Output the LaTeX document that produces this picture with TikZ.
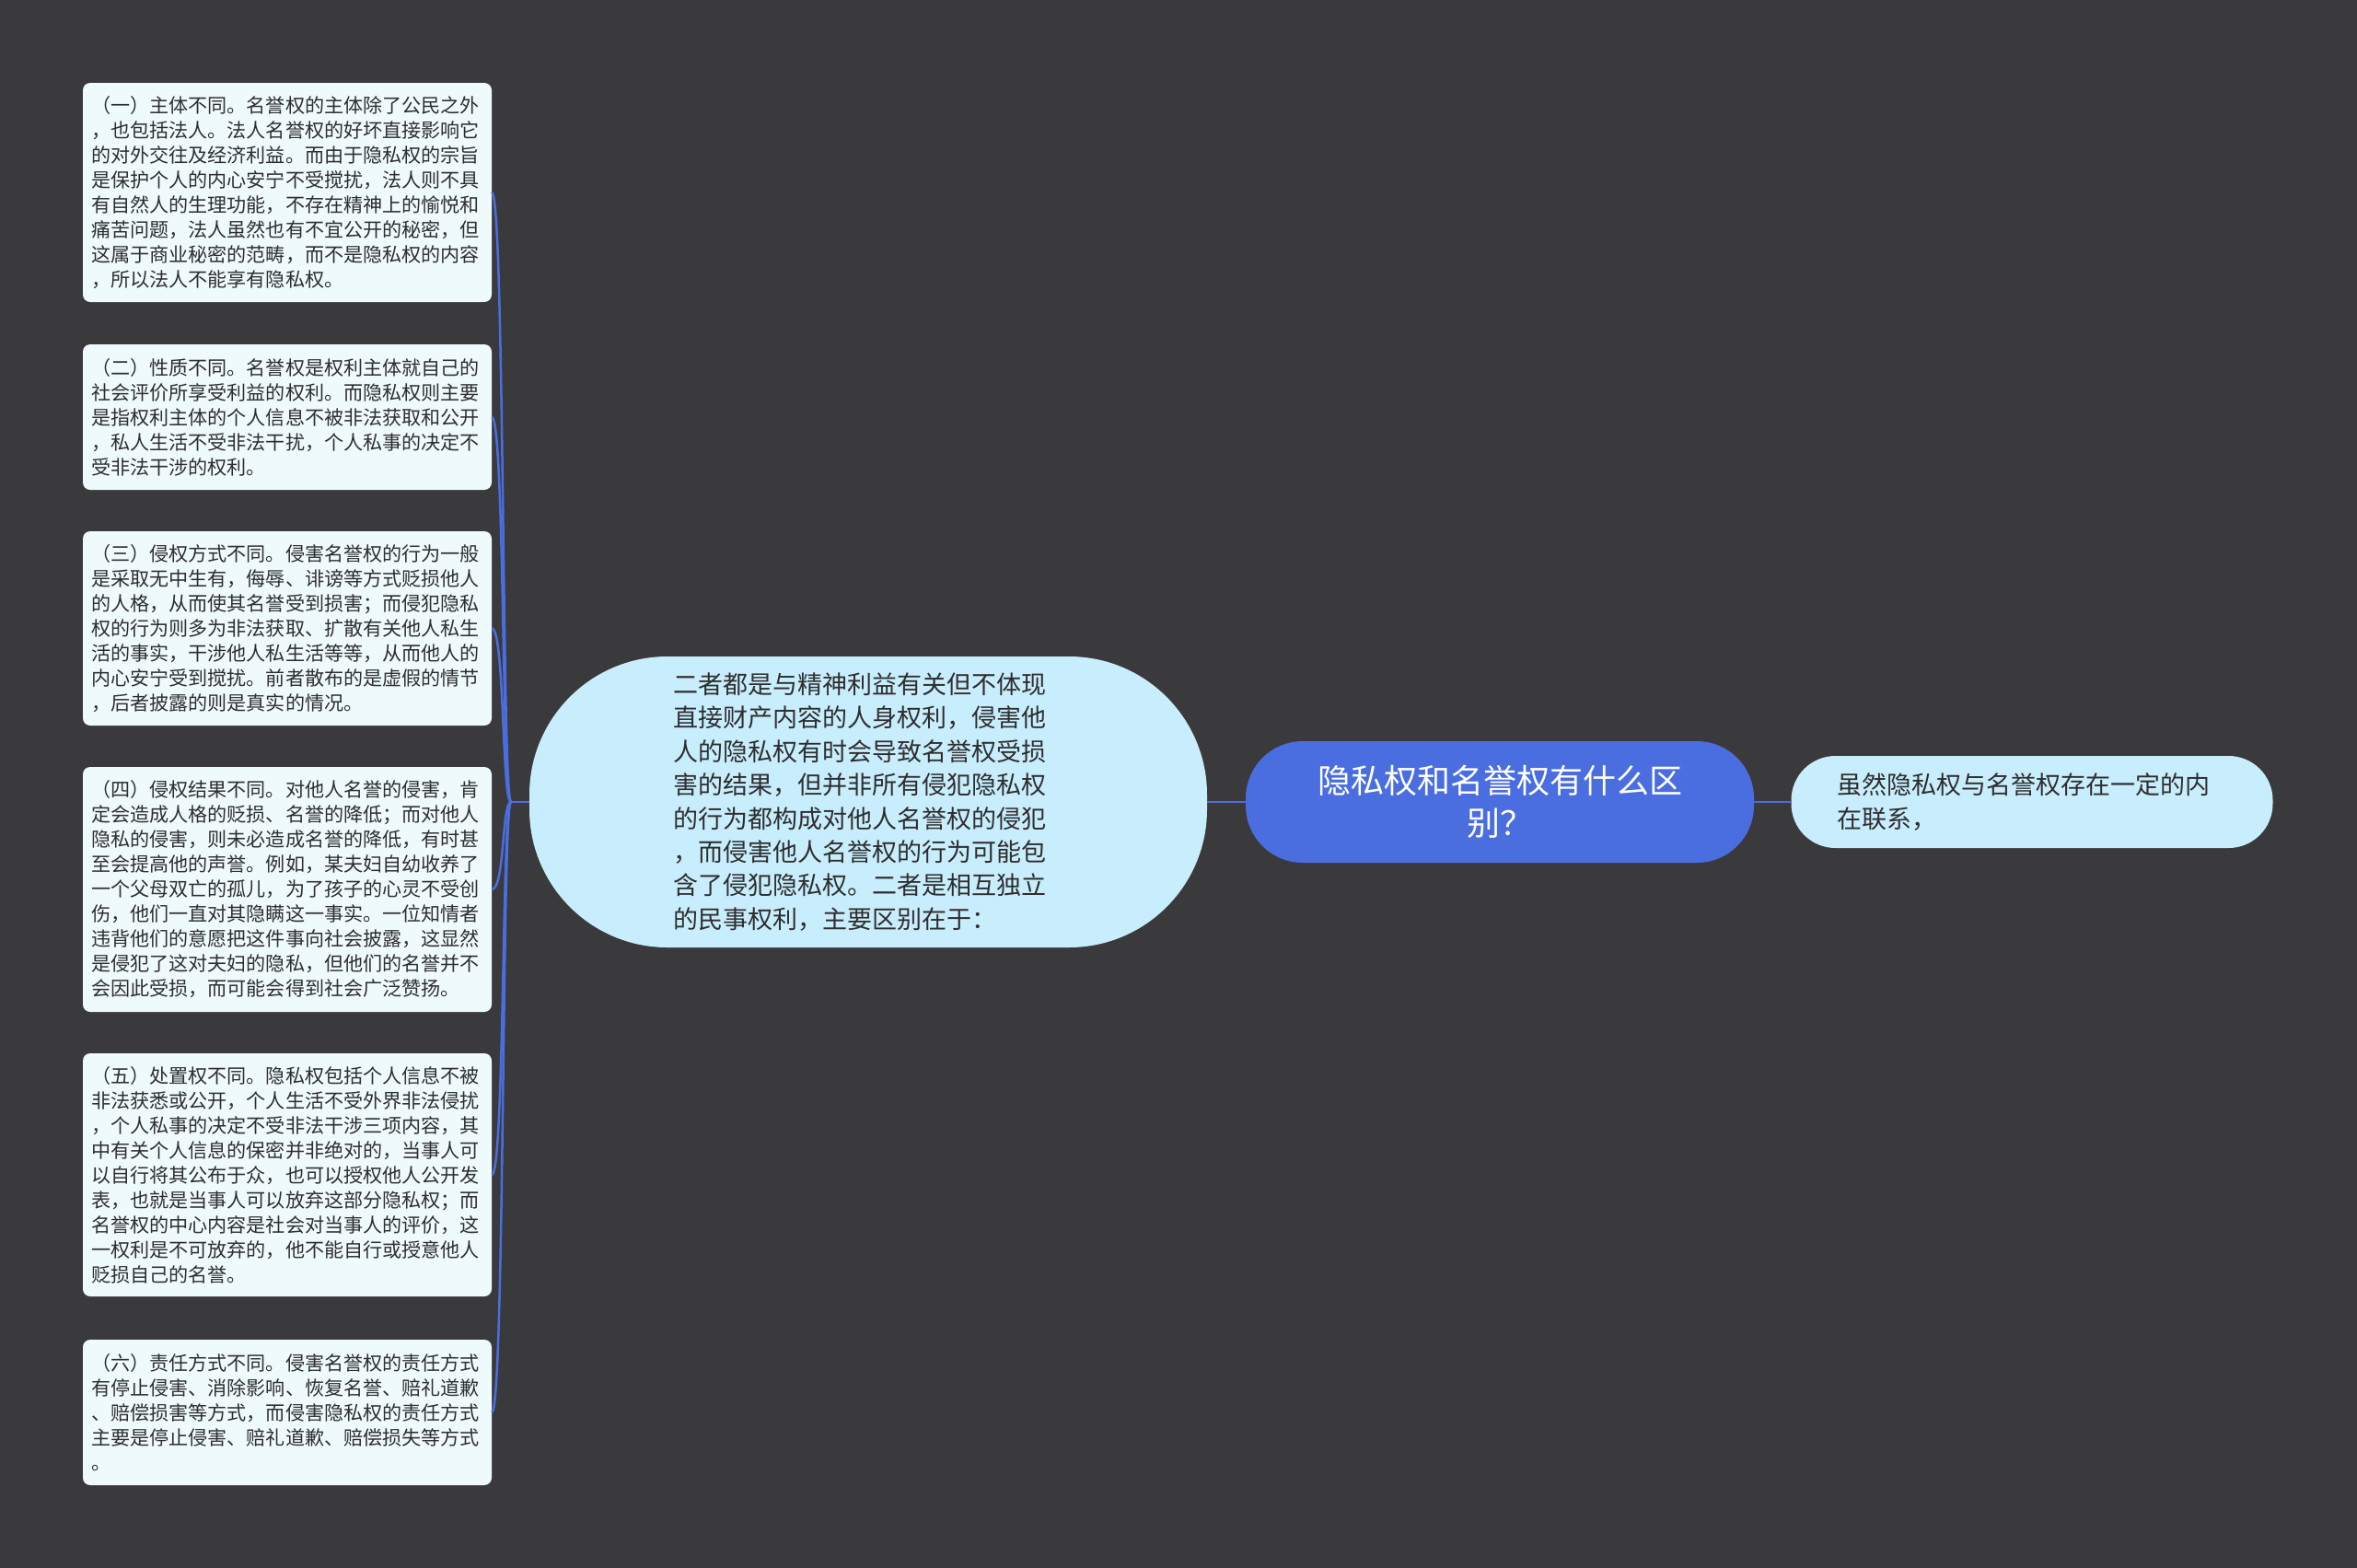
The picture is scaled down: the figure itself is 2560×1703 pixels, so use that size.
\documentclass[tikz,border=0pt]{standalone}
\usepackage{fontspec}
\setmainfont{Noto Sans CJK SC}
\definecolor{bgc}{HTML}{3A393B}
\definecolor{leaffill}{HTML}{EFFAFD}
\definecolor{midfill}{HTML}{C8EDFC}
\definecolor{rootfill}{HTML}{4A6EE0}
\definecolor{linec}{HTML}{4A6EE0}
\definecolor{txt}{HTML}{2E2E2E}
\tikzset{
  leaf/.style={fill=leaffill, rounded corners=8pt, text=txt, align=left,
    text width=426pt, inner xsep=9pt, inner ysep=0pt, minimum width=444pt,
    font=\fontsize{21.1pt}{27pt}\selectfont},
  midnode/.style={fill=midfill, rounded corners=150pt, text=txt, align=left,
    text width=424pt, minimum width=736pt, minimum height=316pt, inner sep=0pt,
    font=\fontsize{27pt}{36.4pt}\selectfont},
  rootnode/.style={fill=rootfill, rounded corners=62pt, text=white, align=center,
    text width=420pt, minimum width=552pt, minimum height=132pt, inner sep=0pt,
    font=\fontsize{36pt}{46pt}\selectfont},
  sidenode/.style={fill=midfill, rounded corners=48pt, text=txt, align=left,
    text width=424pt, minimum width=523pt, minimum height=100pt, inner sep=0pt,
    font=\fontsize{27pt}{37pt}\selectfont},
  conn/.style={draw=linec, line width=2.5pt},
}
\begin{document}
\begin{tikzpicture}[x=1pt,y=-1pt]
\fill[bgc] (0,0) rectangle (2560,1703);
\useasboundingbox (0,0) rectangle (2560,1703);

\node[rootnode] (root) at (1629,871) {隐私权和名誉权有什么区\\别？};
\node[sidenode] (side) at (2207,871) {虽然隐私权与名誉权存在一定的内\\在联系，};
\node[midnode] (mid) at (943,871) {二者都是与精神利益有关但不体现\\直接财产内容的人身权利，侵害他\\人的隐私权有时会导致名誉权受损\\害的结果，但并非所有侵犯隐私权\\的行为都构成对他人名誉权的侵犯\\，而侵害他人名誉权的行为可能包\\含了侵犯隐私权。二者是相互独立\\的民事权利，主要区别在于：};

\node[leaf, minimum height=238pt] (b1) at (312,209) {（一）主体不同。名誉权的主体除了公民之外\\，也包括法人。法人名誉权的好坏直接影响它\\的对外交往及经济利益。而由于隐私权的宗旨\\是保护个人的内心安宁不受搅扰，法人则不具\\有自然人的生理功能，不存在精神上的愉悦和\\痛苦问题，法人虽然也有不宜公开的秘密，但\\这属于商业秘密的范畴，而不是隐私权的内容\\，所以法人不能享有隐私权。};
\node[leaf, minimum height=158pt] (b2) at (312,453) {（二）性质不同。名誉权是权利主体就自己的\\社会评价所享受利益的权利。而隐私权则主要\\是指权利主体的个人信息不被非法获取和公开\\，私人生活不受非法干扰，个人私事的决定不\\受非法干涉的权利。};
\node[leaf, minimum height=211pt] (b3) at (312,682.5) {（三）侵权方式不同。侵害名誉权的行为一般\\是采取无中生有，侮辱、诽谤等方式贬损他人\\的人格，从而使其名誉受到损害；而侵犯隐私\\权的行为则多为非法获取、扩散有关他人私生\\活的事实，干涉他人私生活等等，从而他人的\\内心安宁受到搅扰。前者散布的是虚假的情节\\，后者披露的则是真实的情况。};
\node[leaf, minimum height=266pt] (b4) at (312,966) {（四）侵权结果不同。对他人名誉的侵害，肯\\定会造成人格的贬损、名誉的降低；而对他人\\隐私的侵害，则未必造成名誉的降低，有时甚\\至会提高他的声誉。例如，某夫妇自幼收养了\\一个父母双亡的孤儿，为了孩子的心灵不受创\\伤，他们一直对其隐瞒这一事实。一位知情者\\违背他们的意愿把这件事向社会披露，这显然\\是侵犯了这对夫妇的隐私，但他们的名誉并不\\会因此受损，而可能会得到社会广泛赞扬。};
\node[leaf, minimum height=264pt] (b5) at (312,1276) {（五）处置权不同。隐私权包括个人信息不被\\非法获悉或公开，个人生活不受外界非法侵扰\\，个人私事的决定不受非法干涉三项内容，其\\中有关个人信息的保密并非绝对的，当事人可\\以自行将其公布于众，也可以授权他人公开发\\表，也就是当事人可以放弃这部分隐私权；而\\名誉权的中心内容是社会对当事人的评价，这\\一权利是不可放弃的，他不能自行或授意他人\\贬损自己的名誉。};
\node[leaf, minimum height=158pt] (b6) at (312,1534) {（六）责任方式不同。侵害名誉权的责任方式\\有停止侵害、消除影响、恢复名誉、赔礼道歉\\、赔偿损害等方式，而侵害隐私权的责任方式\\主要是停止侵害、赔礼道歉、赔偿损失等方式\\。};

\draw[conn] (root.east) -- (side.west);
\draw[conn] (root.west) -- (mid.east);
\coordinate (j) at (555,871);
\draw[conn] (mid.west) -- (j);
\foreach \b in {b1,b2,b3,b4,b5,b6}{
  \draw[conn] (j) .. controls +(-10pt,0) and +(14pt,0) .. (\b.east);
}
\end{tikzpicture}
\end{document}
